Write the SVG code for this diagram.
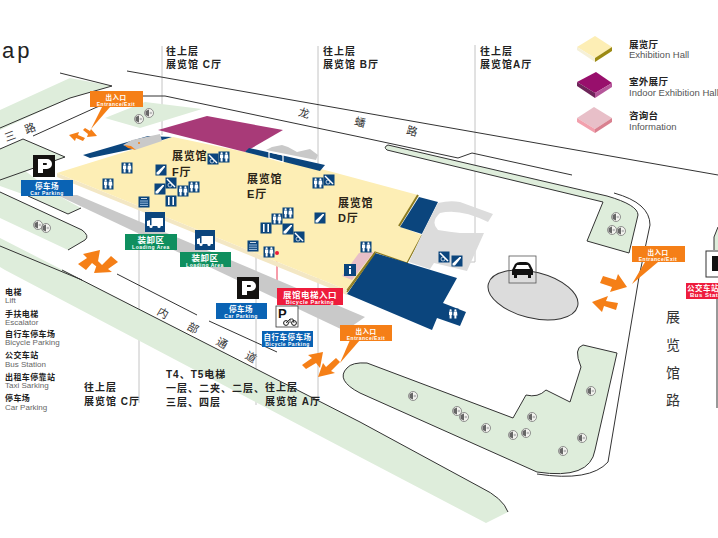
<svg xmlns="http://www.w3.org/2000/svg" width="718" height="538" viewBox="0 0 718 538">
<style>
text{font-family:"Liberation Sans","Noto Sans CJK SC",sans-serif}
.lab{font-size:10px;fill:#222;letter-spacing:1px;font-weight:700}
.hall{font-size:11px;fill:#2a2418;letter-spacing:.8px;font-weight:700}
.leg{font-size:9.500px;fill:#222;font-weight:700;letter-spacing:.3px}
.legen{font-size:9.500px;fill:#555}
.lcn{font-size:8px;fill:#222;font-weight:700;letter-spacing:.4px}
.len{font-size:8px;fill:#666}
.road{font-size:11px;fill:#333;font-family:"Noto Sans CJK SC",sans-serif}
.rd{fill:none;stroke:#333;stroke-width:1}
.gr{fill:#deeddb}
.grl{fill:#deeddb;stroke:#333;stroke-width:1}
.gl{fill:none;stroke:#c4c4c4;stroke-width:1}
.glf{fill:none;stroke:#cfc6a6;stroke-width:.7}
.or{fill:#f57f17}
.navy{fill:#0b457d}
.sc{font-size:7.500px;fill:#fff;font-weight:700;text-anchor:middle;letter-spacing:.5px}
.se{font-size:5px;fill:#fff;font-weight:700;text-anchor:middle;letter-spacing:.5px}
</style>
<defs>
<g id="tree"><circle cx="0" cy="0" r="4.500" fill="#f4f4f0" stroke="#777" stroke-width=".8"/><path d="M-3.500 -2L0 -3.500V3.500L-3.500 2Z" fill="#666"/><circle cx="1.800" cy="0" r="1.300" fill="#bbb"/></g>
<g id="wc"><rect x="-5.500" y="-5.500" width="11" height="11" class="navy"/><path d="M-4 -2.500H-.8V1H-1.400V4.500H-3.400V1H-4ZM.8 -2.500H4L4.400 1.500H3.400V4.500H1.400V1.500H.4Z" fill="#fff"/><circle cx="-2.400" cy="-3.700" r="1.100" fill="#fff"/><circle cx="2.400" cy="-3.700" r="1.100" fill="#fff"/></g>
<g id="lift"><rect x="-5.500" y="-5.500" width="11" height="11" class="navy"/><rect x="-3" y="-4" width="1.600" height="8" fill="#fff"/><rect x="1.400" y="-4" width="1.600" height="8" fill="#fff"/></g>
<g id="esc"><rect x="-5.500" y="-5.500" width="11" height="11" class="navy"/><path d="M-4.500 4.500H-2L4 -3V-4H2.500L-4.500 2.500Z" fill="#fff"/></g>
<g id="acc"><rect x="-5.500" y="-5.500" width="11" height="11" class="navy"/><path d="M-4 -4L4 4" stroke="#fff" stroke-width="1.500"/><circle cx="-1" cy="2" r="2" fill="none" stroke="#fff" stroke-width=".7"/></g>
<g id="grid"><rect x="-5.500" y="-5.500" width="11" height="11" class="navy"/><path d="M-4 -1H4M-4 1.200H4M-4 3.400H4" stroke="#9fc0e0" stroke-width="1"/><path d="M-3 -3.500H3" stroke="#fff" stroke-width=".8"/></g>
<g id="truck"><rect x="-10" y="-10" width="20" height="20" class="navy"/><rect x="-3.500" y="-4" width="11.500" height="8" fill="#fff"/><path d="M-8 4V-1L-5 -2V4Z" fill="#fff"/><circle cx="-4" cy="4.500" r="1.600" fill="#fff"/><circle cx="4" cy="4.500" r="1.600" fill="#fff"/></g>
<g id="pk"><rect x="-11" y="-11" width="22" height="22" fill="#141210"/><path d="M-6 -7H3A4.500 4.500 0 0 1 3 3H-1V7H-6ZM-1 -3V-1H2A1 1 0 0 0 2 -3Z" fill="#fff" fill-rule="evenodd"/></g>
</defs>

<g id="connectors">
<path class="gl" d="M162 46V135M318 46V170M475 45V262H462M139 403V185H155M256 405V243M318 403V233H293"/>
<path class="glf" d="M148 207L240 152M256 243L290 207L318 180"/>
<path d="M277 253V288" stroke="#ee3b55" stroke-width="1" fill="none"/>
</g>

<g id="roads">
<path class="gr" d="M0 110L70 78L112 86L70 98L0 130Z"/>
<path class="gr" d="M0 149L23 139L65 157L0 180Z"/>
<path class="gr" d="M0 178L24 170L57 195L81 208L68 214L28 196L0 186Z"/>
<path class="gr" d="M0 192L82 230Q90 236 85 240L68 250L0 218Z"/>
<path class="gr" d="M0 238L360 422L480 487Q503 498 508 512L486 523L360 457L5 270L0 267Z"/>
<path class="gr" d="M105 118L145 102L202 109L140 128Z"/>
<path class="gr" d="M714 250V237L718 227V250Z"/>
<path class="rd" d="M60 73L112 86L70 98L0 128M33 136L97 107L127 98L143 96H165L360 137L458 158L472 153L572 175M127 71L718 175M0 149L23 139L65 157L0 180M28 196L68 214L81 208M0 192L82 230Q90 236 85 240L68 250M0 246L82 280M62 270L360 422L480 487Q503 498 508 512M117 274L197 315M209 321L277 352"/>
<path class="rd" d="M614 193Q650 203 650 225L639 277L608 462Q590 482 537 474"/>
<path class="rd" d="M718 227L714 237V250M717 298V408"/>
<path class="grl" d="M388 145L607 196Q638 205 638 215L629 253L587 241L603 202L387 150Q383 147 388 145Z"/>
<path class="grl" d="M360 393Q335 380 347 368Q352 362 367 363L513 418L526 395Q538 398 546 390L570 402L581 367Q573 348 583 345L617 353L595 450Q590 480 537 472Z"/>
<path d="M57 195L77 195L365 317L345 331Z" fill="#c9c9c9"/>
<g><use href="#tree" x="139" y="119"/><use href="#tree" x="149" y="113"/><use href="#tree" x="38" y="225"/><use href="#tree" x="46" y="228"/><use href="#tree" x="616" y="217"/><use href="#tree" x="612" y="230"/><use href="#tree" x="621" y="231"/><use href="#tree" x="413" y="396"/><use href="#tree" x="457" y="411"/><use href="#tree" x="464" y="417"/><use href="#tree" x="486" y="428"/><use href="#tree" x="513" y="435"/><use href="#tree" x="526" y="433"/><use href="#tree" x="532" y="417"/><use href="#tree" x="563" y="451"/><use href="#tree" x="582" y="438"/><use href="#tree" x="591" y="391"/></g>
</g>

<g id="halls">
<path d="M57 173L347 290V295L57 177Z" fill="#f3e7c4"/>
<path d="M57 173L173 137L245 152L325 170L418 195L399 226L422 235L407 263L375 252L347 290Z" fill="#fdeeb5"/>
<path d="M418 195L399 226" stroke="#8b7a1f" stroke-width="2" fill="none"/>
<path d="M422 235L407 263L375 252L347 290" stroke="#8b7a1f" stroke-width="1.200" fill="none"/>
<path d="M158 130L207 116L283 130L245 152Z" fill="#a83a78"/>
<path class="navy" d="M83 155L148 136L172 137L133 149L90 158Z"/>
<path d="M123 145L132 140L160 134L162 141L135 150Z" fill="#c9c9c9"/>
<path d="M124 145L131 146L136 150L128 148Z" fill="#f57f17"/><circle cx="139" cy="143" r="1" fill="#f57f17"/>
<path d="M266 150L272 147L282 145L288 147L297 152L310 149L318 155L316 160Z" fill="#c9c9c9"/>
<path class="navy" d="M245 152L249 148L325 165L320 171Z"/>
<path d="M269 152L283 155V162L269 158Z" fill="none" stroke="#fff" stroke-width="1.200"/>
<path class="navy" d="M419 197L438 202L422 234L400 227Z"/>
<path fill="#dcdcdc" d="M438 203Q450 200 460 202L493 214L488 222Q460 208 440 213Q430 222 438 230Q450 232 460 233H484L467 271L434 263L430 269L409 262L422 234Z"/>
<path class="navy" d="M375 253L457 278L443 303L466 312L460 326L437 318L432 330L347 294Z"/>
<path d="M347 292L375 253" stroke="#8b7a1f" stroke-width="1.500" fill="none"/>
<path d="M359 253L374 252L352 280L342 276Z" fill="#e8bfc8"/>
<ellipse cx="533" cy="295" rx="46" ry="23" transform="rotate(14 533 295)" fill="#dcdcdc" stroke="#333"/>
</g>

<g id="icons">
<use href="#wc" x="127" y="168"/><use href="#wc" x="108" y="184"/><use href="#esc" x="161" y="170"/><use href="#esc" x="160" y="189"/><use href="#acc" x="171" y="183"/><use href="#wc" x="183" y="191"/><use href="#wc" x="194" y="187"/><use href="#lift" x="171" y="201"/><use href="#grid" x="144" y="202"/><use href="#acc" x="213" y="159"/><use href="#wc" x="224" y="157"/><use href="#wc" x="318" y="183"/><use href="#acc" x="329" y="180"/><use href="#esc" x="320" y="218"/><use href="#wc" x="288" y="213"/><use href="#wc" x="277" y="219"/><use href="#lift" x="266" y="228"/><use href="#esc" x="288" y="229"/><use href="#acc" x="299" y="237"/><use href="#grid" x="253" y="246"/><use href="#wc" x="269" y="252"/><use href="#wc" x="366" y="247"/><use href="#acc" x="444" y="257"/><use href="#esc" x="457" y="261"/><use href="#wc" x="453" y="314"/>
<g id="info"><rect x="344" y="264" width="12" height="12" class="navy"/><rect x="349" y="269" width="2" height="5" fill="#fff"/><rect x="349" y="266" width="2" height="2" fill="#fff"/></g>
<circle cx="277" cy="253" r="2" fill="#ee1c3c"/>
</g>

<g id="car-icon"><rect x="509" y="256" width="27" height="27" fill="none" stroke="#555" stroke-width=".8"/><path d="M512 270L515 264Q517 262 520 262H526Q528 262 530 264L533 270V275H531V278H528V275H517V278H514V275H512Z" fill="#111"/><path d="M517 265H528L530 269H515Z" fill="#fff"/></g>

<g id="parking-1"><use href="#pk" x="44" y="166"/><rect x="21" y="180" width="52" height="16" fill="#0a63b4"/><text class="sc" x="47" y="189">停车场</text><text class="se" x="47" y="195">Car Parking</text></g>
<g id="parking-2"><use href="#pk" x="248" y="288"/><rect x="216" y="303" width="51" height="16" fill="#0a63b4"/><text class="sc" x="241" y="312">停车场</text><text class="se" x="241" y="318">Car Parking</text></g>
<g id="bike-parking"><rect x="276" y="306" width="22" height="21" fill="#fff" stroke="#333" stroke-width=".8"/><text x="278" y="318" font-size="13" font-weight="700" fill="#111">P</text><circle cx="286" cy="323" r="2.400" fill="none" stroke="#111"/><circle cx="294" cy="323" r="2.400" fill="none" stroke="#111"/><path d="M286 323L290 319H293L294 323M290 319V323" fill="none" stroke="#111" stroke-width=".8"/><rect x="262" y="331" width="51" height="16" fill="#0a63b4"/><text class="sc" x="287.500" y="340">自行车停车场</text><text class="se" x="287.500" y="346">Bicycle Parking</text></g>
<g id="lift-entry"><rect x="277" y="288" width="66" height="17" fill="#ee1c3c"/><text class="sc" x="310" y="298" style="font-size:8.500px">展馆电梯入口</text><text class="se" x="310" y="304" style="font-size:5.500px">Bicycle Parking</text></g>
<g id="loading-1"><use href="#truck" x="155" y="222"/><rect x="125" y="234" width="52" height="16" fill="#0f8f5f"/><text class="sc" x="151" y="243" style="font-size:8.500px">装卸区</text><text class="se" x="151" y="249">Loading Area</text></g>
<g id="loading-2"><use href="#truck" x="205" y="240"/><rect x="180" y="252" width="51" height="15" fill="#0f8f5f"/><text class="sc" x="205" y="261" style="font-size:8.500px">装卸区</text><text class="se" x="205" y="266.500">Loading Area</text></g>

<g id="exit-top"><path class="or" d="M102 107H110L91 129Z"/><rect x="90" y="91" width="53" height="16" class="or"/><text class="sc" x="116" y="100" style="font-size:6.500px">出入口</text><text class="se" x="116" y="105.500">Entrance/Exit</text>
<path class="or" d="M69 135L79 132L78 135L85 138L83 141L76 138L75 141ZM97 136L87 137L88 134L83 130L85 128L90 131L91 129Z"/></g>
<g id="exit-center"><path class="or" d="M350 340H360L340 363Z"/><rect x="340" y="325" width="52" height="16" class="or"/><text class="sc" x="366" y="334" style="font-size:6.500px">出入口</text><text class="se" x="366" y="339.500">Entrance/Exit</text>
<path class="or" d="M323 352L320 368L316 363L306 369L302 365L312 358L308 355ZM318 377L323 363L326 367L336 358L340 362L331 371L335 373Z"/></g>
<g id="exit-right"><path class="or" d="M645 262H658L632 284Z"/><rect x="632" y="246" width="53" height="16" class="or"/><text class="sc" x="658" y="255" style="font-size:6.500px">出入口</text><text class="se" x="658" y="260.500">Entrance/Exit</text>
<path class="or" d="M627 287L610 292L612 287L600 283L603 276L616 280L618 274ZM592 302L608 296L606 301L618 303L616 310L604 306L602 312Z"/></g>
<g id="exit-left"><path class="or" d="M100 250L97 267L92 263L86 270L78 264L87 258L83 254ZM94 273L98 261L102 265L111 256L118 262L108 269L112 272Z"/></g>

<g id="bus-station"><rect x="706" y="251" width="14" height="26" fill="#fff" stroke="#333"/><rect x="712" y="256" width="8" height="15" fill="#111"/><rect x="686" y="283" width="34" height="16" fill="#ee1c3c"/><text class="sc" x="687" y="291" style="text-anchor:start">公交车站</text><text class="se" x="690" y="297" style="text-anchor:start;font-size:6px">Bus Station</text></g>

<g id="labels">
<text class="lab" x="166" y="55">往上层</text><text class="lab" x="166" y="68">展览馆 C厅</text>
<text class="lab" x="323" y="55">往上层</text><text class="lab" x="323" y="68">展览馆 B厅</text>
<text class="lab" x="480" y="55">往上层</text><text class="lab" x="480" y="68">展览馆A厅</text>
<text class="lab" x="84" y="391">往上层</text><text class="lab" x="84" y="405">展览馆 C厅</text>
<text class="lab" x="166" y="378">T4、T5电梯</text><text class="lab" x="166" y="392">一层、二夹、二层、</text><text class="lab" x="166" y="406">三层、四层</text>
<text class="lab" x="265" y="391">往上层</text><text class="lab" x="265" y="405">展览馆 A厅</text>
<text class="hall" x="172" y="160">展览馆</text><text class="hall" x="172" y="176">F厅</text>
<text class="hall" x="247" y="183">展览馆</text><text class="hall" x="247" y="198">E厅</text>
<text class="hall" x="338" y="207">展览馆</text><text class="hall" x="338" y="222">D厅</text>
<text x="2" y="58" font-size="22" fill="#222" letter-spacing="3">ap</text>
<g class="road" text-anchor="middle">
<text x="10" y="140" transform="rotate(-20 10 136)">三</text><text x="30" y="132" transform="rotate(-20 30 128)">路</text>
<text x="304" y="117" transform="rotate(15 304 113)">龙</text><text x="360" y="126" transform="rotate(15 360 122)">蟠</text><text x="412" y="135" transform="rotate(15 412 131)">路</text>
<text x="163" y="317" transform="rotate(30 163 313)">内</text><text x="193" y="332" transform="rotate(30 193 328)">部</text><text x="222" y="347" transform="rotate(30 222 343)">通</text><text x="251" y="361" transform="rotate(30 251 357)">道</text>
<text x="673" y="322" style="font-size:14px">展</text><text x="673" y="350" style="font-size:14px">览</text><text x="673" y="378" style="font-size:14px">馆</text><text x="673" y="405" style="font-size:14px">路</text>
</g>
</g>

<g id="legend-right">
<path d="M595 36L612 47L595 58L577 47Z" fill="#fdeeb5"/><path d="M577 47L595 58V62L577 50Z" fill="#f5f0d8"/><path d="M612 47L595 58V62L612 51Z" fill="#9c8a14"/>
<path d="M596 72L612 83L595 93L577 82Z" fill="#980f6c"/><path d="M577 82L595 93V98L577 86Z" fill="#6e2459"/><path d="M612 83L595 93V98L612 87Z" fill="#b5579a"/>
<path d="M594 107L612 118L595 129L577 118Z" fill="#e8bfc8"/><path d="M577 118L595 129V133L577 122Z" fill="#f2a0ad"/><path d="M612 118L595 129V133L612 122Z" fill="#d9808f"/>
<text class="leg" x="629" y="48">展览厅</text><text class="legen" x="629" y="58">Exhibition Hall</text>
<text class="leg" x="629" y="85">室外展厅</text><text class="legen" x="629" y="96">Indoor Exhibition Hall</text>
<text class="leg" x="629" y="119">咨询台</text><text class="legen" x="629" y="130">Information</text>
</g>
<g id="legend-left">
<text class="lcn" x="5" y="295">电梯</text><text class="len" x="5" y="303">Lift</text>
<text class="lcn" x="5" y="317">手扶电梯</text><text class="len" x="5" y="325">Escalator</text>
<text class="lcn" x="5" y="337">自行车停车场</text><text class="len" x="5" y="345">Bicycle Parking</text>
<text class="lcn" x="5" y="358">公交车站</text><text class="len" x="5" y="367">Bus Station</text>
<text class="lcn" x="5" y="380">出租车停靠站</text><text class="len" x="5" y="388">Taxi Sarking</text>
<text class="lcn" x="5" y="401">停车场</text><text class="len" x="5" y="410">Car Parking</text>
</g>
</svg>
